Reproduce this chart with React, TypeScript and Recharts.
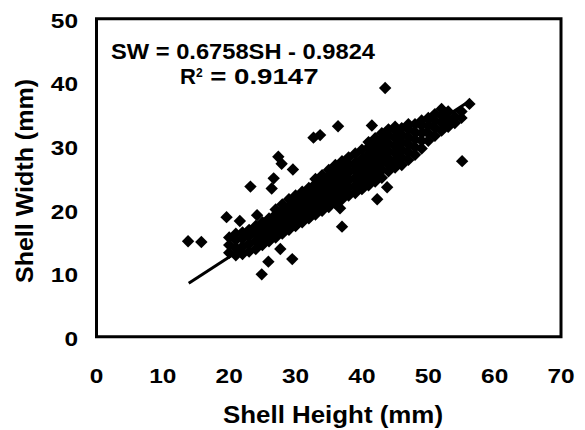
import React from "react";
import {
  ScatterChart,
  Scatter,
  XAxis,
  YAxis,
  ReferenceArea,
  Customized,
} from "recharts";

// Tick labels
const xTicks = [0, 10, 20, 30, 40, 50, 60, 70];
const yTicks = [0, 10, 20, 30, 40, 50];

// Dense band of observations: shell height -> shell widths
const bandHeights = [
  20, 21, 22, 23, 24, 25, 26, 27, 28, 29, 30, 31, 32, 33, 34, 35, 36, 37, 38,
  39, 40, 41, 42, 43, 44, 45, 46, 47, 48, 49, 50, 51, 52, 53, 54, 55,
];
const bandWidths = [
  [13.2, 14.4, 15.6],
  [12.8, 14.0, 15.2, 16.2],
  [13.0, 14.2, 15.4, 16.4],
  [13.4, 14.6, 15.8, 16.8],
  [13.8, 15.0, 16.2, 17.4],
  [14.4, 15.6, 16.8, 18.0],
  [15.0, 16.2, 17.4, 18.6],
  [15.6, 16.8, 18.0, 19.2, 20.0],
  [16.2, 17.4, 18.6, 19.8, 20.8],
  [16.8, 18.0, 19.2, 20.4, 21.6],
  [17.4, 18.6, 19.8, 21.0, 22.2],
  [18.0, 19.2, 20.4, 21.6, 22.8],
  [18.6, 19.8, 21.0, 22.2, 23.4],
  [19.2, 20.4, 21.6, 22.8, 24.0, 24.8],
  [19.8, 21.0, 22.2, 23.4, 24.6, 25.4],
  [20.4, 21.6, 22.8, 24.0, 25.2, 26.2],
  [21.0, 22.2, 23.4, 24.6, 25.8, 27.0],
  [21.6, 22.8, 24.0, 25.2, 26.4, 27.6],
  [22.2, 23.4, 24.6, 25.8, 27.0, 28.2],
  [22.6, 23.8, 25.0, 26.2, 27.4, 28.8],
  [23.2, 24.4, 25.6, 26.8, 28.0, 29.4],
  [23.8, 25.0, 26.2, 27.4, 28.6, 29.8, 30.6],
  [24.4, 25.6, 26.8, 28.0, 29.2, 30.4, 31.2],
  [25.0, 26.2, 27.4, 28.6, 29.8, 31.0, 32.0],
  [26.0, 27.0, 28.0, 29.2, 30.4, 31.6, 32.6],
  [26.6, 27.6, 28.8, 30.0, 31.2, 32.4, 33.0],
  [27.0, 28.2, 29.4, 30.6, 31.8, 32.8],
  [27.8, 29.0, 30.2, 31.4, 32.6, 33.4],
  [28.6, 29.8, 31.0, 32.2, 33.4],
  [29.6, 30.8, 32.0, 33.2, 34.0],
  [30.8, 32.0, 33.2, 34.4],
  [31.6, 32.8, 34.0, 35.0],
  [32.4, 33.6, 34.8, 35.8],
  [33.0, 34.2, 35.4],
  [33.6, 34.6],
  [34.4, 35.4],
];

// Scattered individual observations
const outlierHeights = [
  13.8, 15.8, 19.6, 21.6, 24.2, 23.2, 26.4, 25.9, 24.9, 27.7, 29.5, 36.4, 32.7,
  33.7, 41.5, 27.4, 27.9, 29.6, 26.7, 43.8, 42.3, 36.7, 37.0, 43.5, 56.2, 55.1,
];
const outlierWidths = [
  15.0, 14.9, 18.8, 18.2, 19.1, 23.6, 23.3, 11.8, 9.8, 13.8, 12.2, 33.1, 31.3,
  31.7, 33.2, 28.3, 27.2, 26.3, 24.9, 23.5, 21.6, 20.2, 17.3, 39.1, 36.6, 27.6,
];

// Regression line endpoints (SW = 0.6758SH - 0.9824)
const fitHeights = [13.9, 56.0];
const fitWidths = [8.4, 36.9];

const points: { x: number; y: number }[] = [];
bandHeights.forEach((h, i) => {
  bandWidths[i].forEach((w) => points.push({ x: h, y: w }));
});
outlierHeights.forEach((h, i) => points.push({ x: h, y: outlierWidths[i] }));
const fitLine = fitHeights.map((h, i) => ({ x: h, y: fitWidths[i] }));

const FONT = "'Liberation Sans', Arial, Helvetica, sans-serif";

const Diamond = (props: any) => {
  const { cx, cy } = props;
  if (cx == null || cy == null) return null;
  const r = 6.2;
  return (
    <path
      d={`M${cx},${cy - r}L${cx + r},${cy}L${cx},${cy + r}L${cx - r},${cy}Z`}
      fill="#000"
    />
  );
};

const XTick = (props: any) => {
  const { payload } = props;
  const s = String(payload.value);
  return (
    <text
      x={payload.coordinate}
      y={383}
      textAnchor="middle"
      fontFamily={FONT}
      fontWeight="bold"
      fontSize={21}
      fill="#000"
      textLength={13.6 * s.length}
      lengthAdjust="spacingAndGlyphs"
    >
      {s}
    </text>
  );
};

const YTick = (props: any) => {
  const { payload } = props;
  const s = String(payload.value);
  return (
    <text
      x={78}
      y={payload.coordinate + 9}
      textAnchor="end"
      fontFamily={FONT}
      fontWeight="bold"
      fontSize={20}
      fill="#000"
      textLength={13.6 * s.length}
      lengthAdjust="spacingAndGlyphs"
    >
      {s}
    </text>
  );
};

const Annotations = () => (
  <g fontFamily={FONT} fontWeight="bold" fill="#000">
    <text x={111} y={59} fontSize={22} textLength={264} lengthAdjust="spacingAndGlyphs">
      SW = 0.6758SH - 0.9824
    </text>
    <text x={180} y={83.5} fontSize={22}>
      R
      <tspan dy={-7} fontSize={12}>
        2
      </tspan>
      <tspan dy={7} fontSize={22} textLength={116} lengthAdjust="spacingAndGlyphs">
        {" = 0.9147"}
      </tspan>
    </text>
    <text
      x={333}
      y={423}
      fontSize={23}
      textAnchor="middle"
      textLength={220}
      lengthAdjust="spacingAndGlyphs"
    >
      Shell Height (mm)
    </text>
    <text
      x={33}
      y={0}
      fontSize={23}
      textAnchor="middle"
      transform="translate(33,181) rotate(-90) translate(-33,0)"
      textLength={204}
      lengthAdjust="spacingAndGlyphs"
    >
      Shell Width (mm)
    </text>
  </g>
);

export default function App() {
  return (
    <div style={{ position: "absolute", left: 0, top: 0, background: "#fff" }}>
      <ScatterChart
        width={585}
        height={430}
        margin={{ top: 18.7, right: 24, left: 0, bottom: 0 }}
      >
        <XAxis
          type="number"
          dataKey="x"
          domain={[0, 70]}
          ticks={xTicks}
          height={93.3}
          axisLine={false}
          tickLine={false}
          tick={<XTick />}
          interval={0}
          allowDataOverflow
        />
        <YAxis
          type="number"
          dataKey="y"
          domain={[0, 50]}
          ticks={yTicks}
          width={96.5}
          axisLine={false}
          tickLine={false}
          tick={<YTick />}
          interval={0}
          allowDataOverflow
        />
        <ReferenceArea
          x1={0}
          x2={70}
          y1={0}
          y2={50}
          fill="none"
          stroke="#000"
          strokeWidth={3}
          fillOpacity={0}
        />
        <Scatter
          data={fitLine}
          line={{ stroke: "#000", strokeWidth: 3 }}
          shape={() => null}
          isAnimationActive={false}
        />
        <Scatter data={points} shape={<Diamond />} isAnimationActive={false} />
        <Customized component={Annotations} />
      </ScatterChart>
    </div>
  );
}
